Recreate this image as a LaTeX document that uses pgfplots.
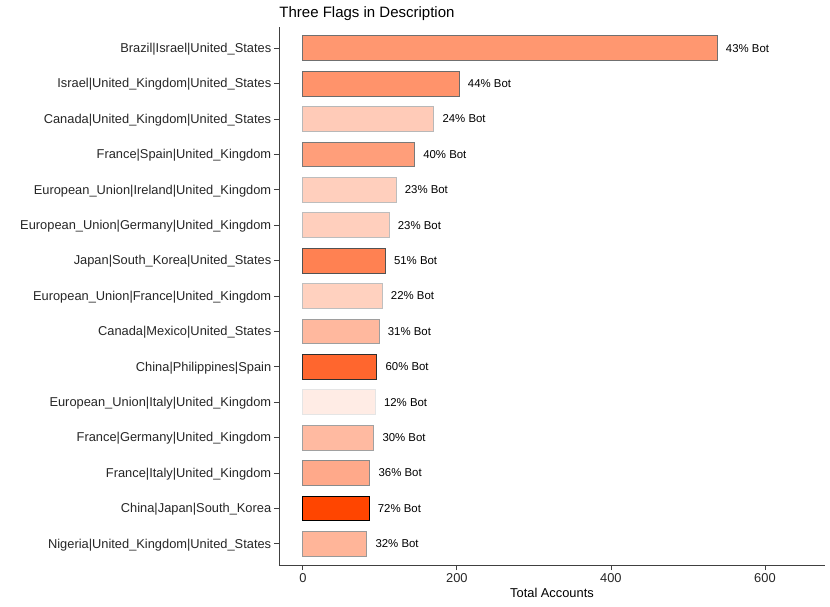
\documentclass[border=0pt]{standalone}
\usepackage{fontspec}
\setmainfont{Liberation Sans}
\usepackage{pgfplots}
\pgfplotsset{compat=1.18}
\definecolor{orangered}{RGB}{255,69,0}

% fill and border mixed with white, share = scaled bot share (alpha 0.1 .. 1)
\newcommand{\flagbar}[4]{%
  \addplot[fill=orangered!#4!white, draw=black!#4!white] coordinates {(#1,#2) [#3\% Bot]};
}

\begin{document}
\begin{tikzpicture}
\begin{axis}[
  name=ax,
  scale only axis, width=546pt, height=538pt,
  xbar, bar width=0.7, bar shift=0pt,
  xmin=-31, xmax=678, ymin=0.4, ymax=15.6,
  axis lines=left, axis line style={-, black!75, line width=0.8pt},
  tick style={black!75, line width=0.8pt}, major tick length=5pt, tick align=outside,
  xtick={0,200,400,600},
  ytick={1,...,15},
  yticklabels={Nigeria|United\_Kingdom|United\_States, China|Japan|South\_Korea, France|Italy|United\_Kingdom, France|Germany|United\_Kingdom, European\_Union|Italy|United\_Kingdom, China|Philippines|Spain, Canada|Mexico|United\_States, European\_Union|France|United\_Kingdom, Japan|South\_Korea|United\_States, European\_Union|Germany|United\_Kingdom, European\_Union|Ireland|United\_Kingdom, France|Spain|United\_Kingdom, Canada|United\_Kingdom|United\_States, Israel|United\_Kingdom|United\_States, Brazil|Israel|United\_States},
  ticklabel style={font=\fontsize{12.85}{15}\selectfont, text=black!85},
  yticklabel style={xshift=1pt, yshift=-1pt},
  /pgf/number format/assume math mode=true,
  xlabel={Total Accounts},
  xlabel style={font=\fontsize{12.85}{15}\selectfont, yshift=2pt},
  title={Three Flags in Description},
  title style={at={(0,1)}, anchor=base west, yshift=3pt, inner sep=0pt, font=\fontsize{15}{18}\selectfont},
  point meta=explicit symbolic,
  nodes near coords,
  nodes near coords align={horizontal},
  every node near coord/.append style={font=\fontsize{11.4}{14}\selectfont, text=black, anchor=west, xshift=5pt},
  line width=0.9pt,
]
\flagbar{538}{15}{43}{56}
\flagbar{203}{14}{44}{58}
\flagbar{170}{13}{24}{28}
\flagbar{145}{12}{40}{52}
\flagbar{121}{11}{23}{26}
\flagbar{112}{10}{23}{26}
\flagbar{107}{9}{51}{68}
\flagbar{103}{8}{22}{25}
\flagbar{99}{7}{31}{38}
\flagbar{96}{6}{60}{82}
\flagbar{94}{5}{12}{10}
\flagbar{92}{4}{30}{37}
\flagbar{87}{3}{36}{46}
\flagbar{86}{2}{72}{100}
\flagbar{83}{1}{32}{40}
\end{axis}
\path (ax.south west) ++(-279pt,-41pt) rectangle ++(830pt,606pt);
\end{tikzpicture}
\end{document}
